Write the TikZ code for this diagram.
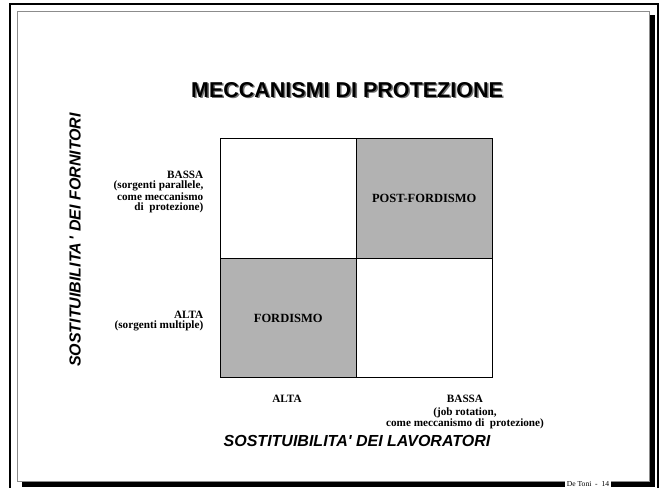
\documentclass[tikz,border=0pt]{standalone}
\usepackage{fontspec}
\setmainfont{Liberation Serif}
\newfontfamily\arialfont{Liberation Sans}
\usetikzlibrary{positioning,matrix}

\begin{document}
\begin{tikzpicture}[x=1pt,y=-1pt,ampersand replacement=\&]
\tikzset{
cell/.style = {draw,line width=0.9pt,minimum width=136pt,minimum height=119.5pt,inner sep=0pt,font=\fontsize{12.5}{14}\selectfont\bfseries},
shaded/.style = {cell,fill=black!30},
plain/.style = {cell,fill=white},
lbl/.style = {font=\fontsize{11.2}{10}\selectfont\bfseries,inner sep=0pt},
axis/.style = {font=\arialfont\fontsize{16}{18}\selectfont\bfseries\itshape,inner sep=0pt},
headline/.style = {font=\arialfont\fontsize{21.5}{24}\selectfont\bfseries,inner sep=0pt},
}
\useasboundingbox (0,0) rectangle (665,488);
    %
% slide frame
\draw[line width=2pt] (10,489) -- (10,4) -- (658,4) -- (658,489);
\fill (650,15) rectangle (655,487);
\fill (22,481.5) rectangle (655,487);
\draw[black!45,line width=0.8pt] (17,11) rectangle (649.5,481);
\node[fill=white,inner sep=1.5pt,font=\fontsize{7.6}{8}\selectfont] (page) at (588,484.5) {De Toni \ - \ 14};
    %
% title with shadow
\node[headline,text=black!55] (titleshadow) at (348.5,91.5) {MECCANISMI DI PROTEZIONE};
\node[headline] (title) at (347,90) {MECCANISMI DI PROTEZIONE};
    %
\matrix[row sep=-0.9pt, column sep=-0.9pt] (grid) at (356.25,258.25) {
\node[plain] (tl) {};
\& \node[shaded] (tr) {POST-FORDISMO};\\
\node[shaded] (bl) {FORDISMO};
\& \node[plain] (br) {};\\
};
    %
% row labels
\node[lbl,align=right,anchor=east] (rowlow) at (203.5,192) {BASSA\\(sorgenti parallele,\\come meccanismo\\di \ protezione)};
\node[lbl,align=right,anchor=east] (rowhigh) at (203.5,321) {ALTA\\(sorgenti multiple)};
% column labels
\node[lbl] (colhigh) at (287,399) {ALTA};
\node[lbl,align=center,anchor=north] (collow) at (465,395) {BASSA\\[3pt](job rotation,\\come meccanismo di \ protezione)};
    %
\node[axis] (xaxis) at (357,441) {SOSTITUIBILITA' DEI LAVORATORI};
\node[axis,rotate=90] (yaxis) at (75,240) {SOSTITUIBILITA\,' DEI FORNITORI};
\end{tikzpicture}
\end{document}
